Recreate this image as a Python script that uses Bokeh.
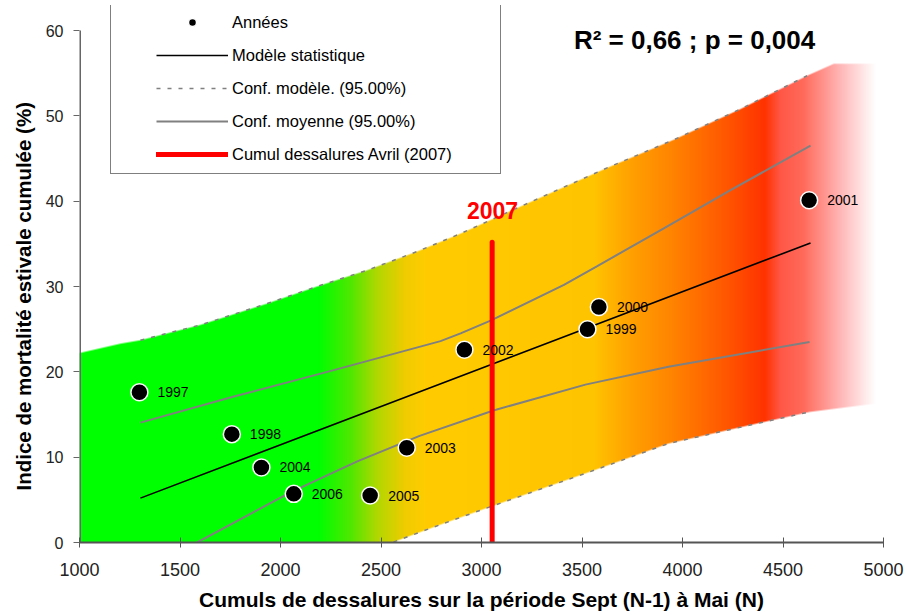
import numpy as np
from bokeh.plotting import figure
from bokeh.models import Legend, LegendItem, Label, Range1d, FixedTicker, Title
from bokeh.core.properties import value
from bokeh.embed import file_html
from bokeh.resources import INLINE

FONT = "Liberation Sans"

# ---- data ----
years = ["1997", "1998", "2004", "2006", "2005", "2003", "2002", "1999", "2000", "2001"]
cumul = [1298, 1758, 1905, 2066, 2446, 2628, 2915, 3527, 3584, 4630]
mortalite = [17.6, 12.7, 8.8, 5.7, 5.5, 11.1, 22.6, 25.0, 27.6, 40.1]

model_x = [1303, 4637]
model_y = [5.2, 35.1]

conf_moy_up_x = [1303, 1768, 2265, 2796, 2896, 3045, 3410, 3576, 3907, 4239, 4637]
conf_moy_up_y = [14.05, 17.1, 20.2, 23.6, 24.5, 26.0, 30.2, 32.4, 36.8, 41.3, 46.5]
conf_moy_lo_x = [1505, 1585, 1917, 2052, 2382, 2692, 3063, 3517, 3930, 4632]
conf_moy_lo_y = [-0.7, 0.0, 4.2, 5.9, 9.5, 12.5, 15.5, 18.5, 20.6, 23.5]

conf_mod_up_x = [1303, 1602, 1934, 2182, 2431, 2680, 2896, 3244, 3625, 3957, 4289, 4620]
conf_mod_up_y = [23.7, 25.5, 28.0, 30.0, 31.9, 34.1, 36.2, 39.9, 43.9, 47.2, 50.8, 54.7]
conf_mod_lo_x = [2464, 2567, 2796, 3021, 3517, 3930, 4343, 4632]
conf_mod_lo_y = [-1.1, 0.1, 2.1, 4.0, 8.1, 11.6, 13.8, 15.3]

band_top_x = [1000, 1204, 1303, 1602, 1934, 2182, 2431, 2680, 2896, 3244, 3625, 3957, 4289, 4620, 4753, 4968]
band_top_y = [22.2, 23.3, 23.7, 25.5, 28.0, 30.0, 31.9, 34.1, 36.2, 39.9, 43.9, 47.2, 50.8, 54.7, 56.1, 56.1]
band_lo_x = [1000, 2464, 2567, 2796, 3021, 3517, 3930, 4343, 4632, 4968]
band_lo_y = [-10.0, -1.1, 0.1, 2.1, 4.0, 8.1, 11.6, 13.8, 15.3, 16.3]

grad_x = [1000, 2190, 2350, 2480, 2620, 2720, 3560, 3750, 3950, 4200, 4410, 4490, 4600, 4780, 4960]
grad_c = ["#00ff00", "#00ff00", "#50e800", "#b0d800", "#f0cc00", "#ffcc00", "#ffc400",
          "#ffa000", "#ff8400", "#ff5a00", "#ff3300", "#ff5848", "#ff6a5a", "#ffb4b4", "#ffffff"]

x2007 = 3053
y2007_top = 35.2

x_ticks = [1000, 1500, 2000, 2500, 3000, 3500, 4000, 4500, 5000]
y_ticks = [0, 10, 20, 30, 40, 50, 60]
y_axis_top = 60

# ---- figure ----
FRAME_H = 537
Y_END = 60 * FRAME_H / 512
p = figure(frame_width=804, frame_height=FRAME_H, min_border_left=79, min_border_right=25,
           min_border_top=5, min_border_bottom=70,
           x_range=Range1d(1000, 5000), y_range=Range1d(0, Y_END),
           output_backend="svg", toolbar_location=None)
p.outline_line_color = None
p.grid.visible = False
p.background_fill_color = "white"
p.border_fill_color = "white"

# gradient band as an RGBA image
nx, ny = 804, 512
xc = 1000 + (np.arange(nx) + 0.5) * 4000 / nx
yc = (np.arange(ny) + 0.5) * 60 / ny
top = np.interp(xc, band_top_x, band_top_y, right=-100)
low = np.interp(xc, band_lo_x, band_lo_y, right=100)
dy = 60 / ny
a_top = np.clip((top[None, :] - yc[:, None]) / dy + 0.5, 0, 1)
a_low = np.clip((yc[:, None] - low[None, :]) / dy + 0.5, 0, 1)
alpha = a_top * a_low
rgb = np.array([[int(c[i:i + 2], 16) for i in (1, 3, 5)] for c in grad_c], dtype=float)
img = np.zeros((ny, nx, 4), dtype=np.uint8)
for k in range(3):
    img[..., k] = np.interp(xc, grad_x, rgb[:, k]).astype(np.uint8)[None, :]
img[..., 3] = (alpha * 255).astype(np.uint8)
p.image_rgba(image=[img.view(np.uint32).reshape(ny, nx)], x=1000, y=0, dw=4000, dh=60)

# y axis line only from 0 to 60 (half of it is inside the frame)
p.segment(x0=[1000], y0=[0], x1=[1000], y1=[y_axis_top], line_color="#666666", line_width=3)

GRAY = "#808080"
r_mod_up = p.line(conf_mod_up_x, conf_mod_up_y, line_color=GRAY, line_width=1.5, line_dash="4 7")
p.line(conf_mod_lo_x, conf_mod_lo_y, line_color=GRAY, line_width=1.5, line_dash="4 7")
r_moy_up = p.line(conf_moy_up_x, conf_moy_up_y, line_color=GRAY, line_width=2)
p.line(conf_moy_lo_x, conf_moy_lo_y, line_color=GRAY, line_width=2)
r_model = p.line(model_x, model_y, line_color="black", line_width=1.6)
r_2007 = p.line([x2007, x2007], [0, y2007_top], line_color="#ff0000", line_width=5, line_cap="round")
r_pts = p.scatter(cumul, mortalite, size=17, fill_color="black", line_color="white", line_width=1.5)
p.text(x=cumul, y=mortalite, text=years, x_offset=18, text_baseline="middle", text_align="left",
       text_font=value(FONT), text_font_size="14px", text_color="black")

p.add_layout(Label(x=3055, y=38.9, text="2007", text_align="center", text_baseline="middle",
                   text_color="#ff0000", text_font=FONT, text_font_style="bold", text_font_size="23px"))
p.add_layout(Label(x=4060, y=58.83, text="R² = 0,66 ; p = 0,004", text_align="center",
                   text_baseline="middle", text_color="black", text_font=FONT,
                   text_font_style="bold", text_font_size="26px"))

# axes
p.xaxis.ticker = FixedTicker(ticks=x_ticks)
p.yaxis.ticker = FixedTicker(ticks=y_ticks)
p.xaxis.minor_tick_line_color = None
p.yaxis.minor_tick_line_color = None
p.xaxis.axis_line_color = "#555555"
p.xaxis.axis_line_width = 2
p.xaxis.major_tick_line_color = "#555555"
p.xaxis.major_tick_in = 5
p.xaxis.major_tick_out = 5
p.yaxis.axis_line_color = None
p.yaxis.major_tick_line_color = "#666666"
p.yaxis.major_tick_in = 0
p.yaxis.major_tick_out = 6
p.xaxis.major_label_text_font = FONT
p.xaxis.major_label_text_font_size = "18px"
p.xaxis.major_label_text_color = "#222222"
p.xaxis.major_label_standoff = 15
p.yaxis.major_label_text_font = FONT
p.yaxis.major_label_text_font_size = "16px"
p.yaxis.major_label_text_color = "#222222"
p.yaxis.major_label_standoff = 10
p.xaxis.axis_label = "Cumuls de dessalures sur la période Sept (N-1) à Mai (N)"
p.xaxis.axis_label_text_font = FONT
p.xaxis.axis_label_text_font_style = "bold"
p.xaxis.axis_label_text_color = "black"
p.xaxis.axis_label_text_font_size = "21px"
p.xaxis.axis_label_standoff = 9

ytitle = Title(text="Indice de mortalité estivale cumulée (%)", align="left", offset=52,
               text_font=FONT, text_font_style="bold", text_font_size="20.5px",
               text_color="black", standoff=15)
p.add_layout(ytitle, "left")

# legend: box first, then transparent entries on top
r_dummy = p.scatter(x=[], y=[], fill_alpha=0, line_alpha=0)
box = Legend(items=[LegendItem(label=" ", renderers=[r_dummy])], location=(31, 368),
             padding=0, margin=0, spacing=0, glyph_width=389, glyph_height=168,
             label_standoff=0, label_width=0, label_height=0, label_text_font_size="1px",
             border_line_color="black", border_line_width=1,
             background_fill_color="white", background_fill_alpha=1)
p.add_layout(box)
leg = Legend(items=[
    LegendItem(label="Années", renderers=[r_pts]),
    LegendItem(label="Modèle statistique", renderers=[r_model]),
    LegendItem(label="Conf. modèle. (95.00%)", renderers=[r_mod_up]),
    LegendItem(label="Conf. moyenne (95.00%)", renderers=[r_moy_up]),
    LegendItem(label="Cumul dessalures Avril (2007)", renderers=[r_2007]),
], location=(77, 378), padding=0, margin=0, spacing=13, glyph_width=72, glyph_height=20,
    label_height=20, label_standoff=4, label_text_font=FONT, label_text_font_size="16.5px",
    label_text_color="black", border_line_color=None, background_fill_alpha=0)
p.add_layout(leg)

open("out.html", "w").write(file_html(p, INLINE))
